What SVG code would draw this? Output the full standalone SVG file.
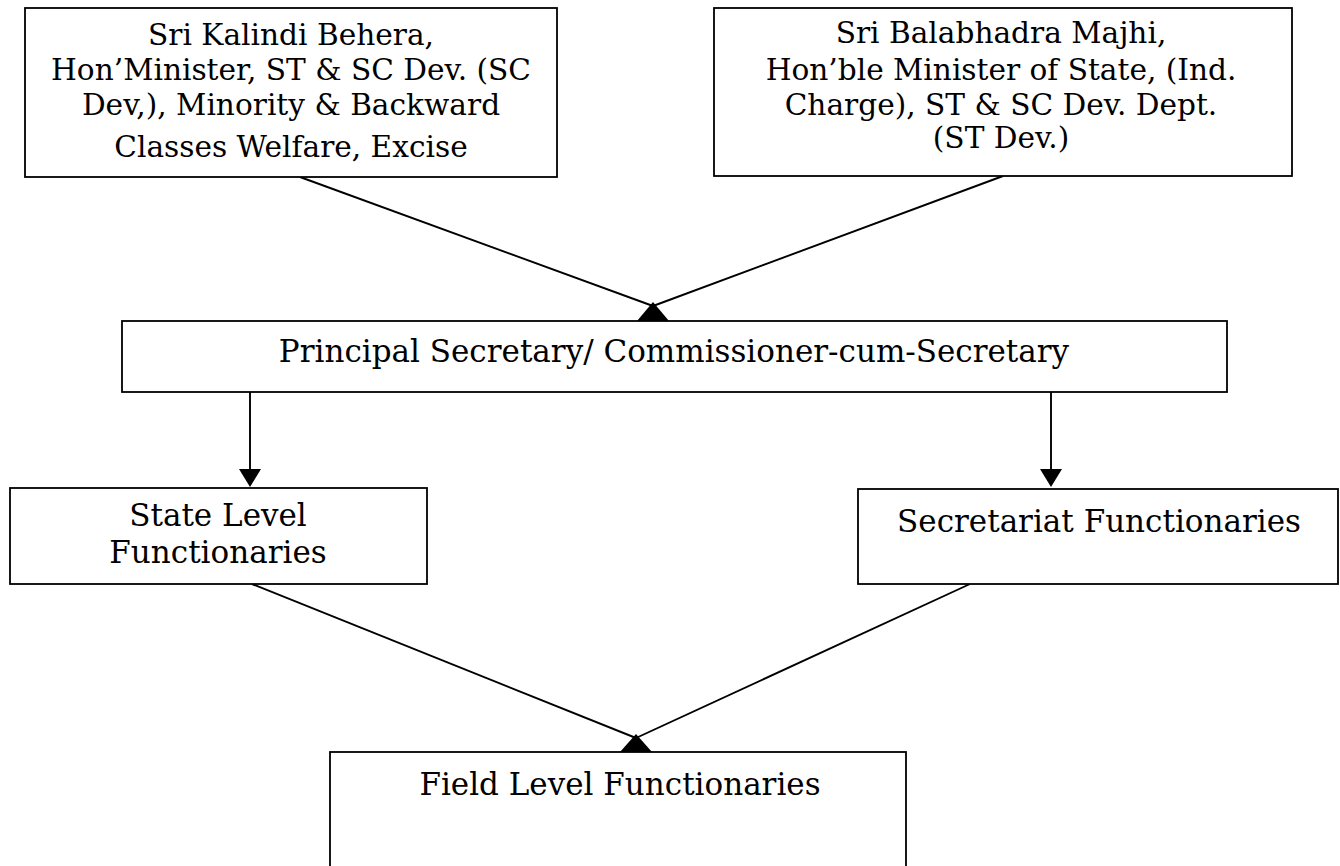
<svg xmlns="http://www.w3.org/2000/svg" width="1340" height="866" viewBox="0 0 1340 866">
<style>
.box{fill:#fff;stroke:#000;stroke-width:1.8}
.t{font-family:"DejaVu Serif","Liberation Serif",serif;font-size:31px;fill:#000;text-anchor:middle}
.s{font-size:29.6px}
.c{stroke:#000;stroke-width:1.9;fill:none}
.h{fill:#000;stroke:none}
</style>
<rect width="1340" height="866" fill="#fff"/>
<g id="connectors">
<line class="c" x1="300" y1="177" x2="653" y2="306"/>
<line class="c" x1="1003" y1="176" x2="653" y2="306"/>
<line class="c" x1="250" y1="392" x2="250" y2="475"/>
<polygon class="h" points="239,469 261,469 250,487"/>
<line class="c" x1="1051" y1="392" x2="1051" y2="475"/>
<polygon class="h" points="1040,469 1062,469 1051,487"/>
<line class="c" x1="252" y1="584" x2="636" y2="738"/>
<line class="c" x1="970" y1="584" x2="636" y2="738"/>
</g>
<g id="n-kalindi">
<rect class="box" x="25" y="8" width="532" height="169"/>
<text class="t s" x="291" y="45">Sri Kalindi Behera,</text>
<text class="t s" x="291" y="80">Hon’Minister, ST &amp; SC Dev. (SC</text>
<text class="t s" x="291" y="115">Dev,), Minority &amp; Backward</text>
<text class="t s" x="291" y="157">Classes Welfare, Excise</text>
</g>
<g id="n-balabhadra">
<rect class="box" x="714" y="8" width="578" height="168"/>
<text class="t s" x="1001" y="43">Sri Balabhadra Majhi,</text>
<text class="t s" x="1001" y="80">Hon’ble Minister of State, (Ind.</text>
<text class="t s" x="1001" y="115">Charge), ST &amp; SC Dev. Dept.</text>
<text class="t s" x="1001" y="148">(ST Dev.)</text>
</g>
<g id="n-principal">
<rect class="box" x="122" y="321" width="1105" height="71"/>
<polygon class="h" points="637,321 653,302 669,321"/>
<text class="t" x="674" y="362">Principal Secretary/ Commissioner-cum-Secretary</text>
</g>
<g id="n-state">
<rect class="box" x="10" y="488" width="417" height="96"/>
<text class="t" x="218" y="526">State Level</text>
<text class="t" x="218" y="563">Functionaries</text>
</g>
<g id="n-secretariat">
<rect class="box" x="858" y="489" width="480" height="95"/>
<text class="t" x="1099" y="532">Secretariat Functionaries</text>
</g>
<g id="n-field">
<rect class="box" x="330" y="752" width="576" height="130"/>
<polygon class="h" points="620,752 636,734 652,752"/>
<text class="t" x="620" y="795">Field Level Functionaries</text>
</g>
</svg>
